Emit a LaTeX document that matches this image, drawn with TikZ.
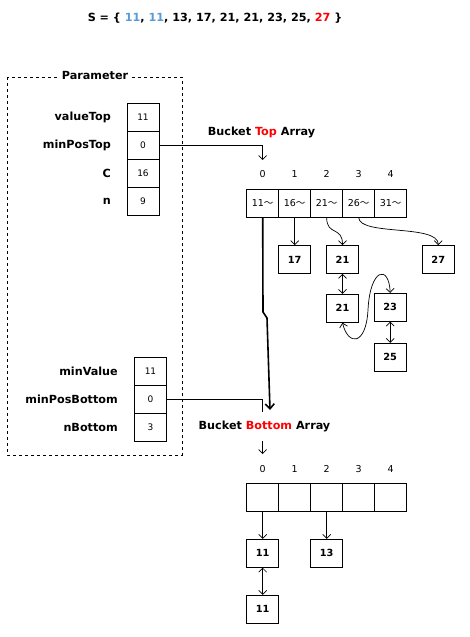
\documentclass[tikz,border=0pt]{standalone}
\usepackage{fontspec}
\setmainfont{DejaVu Sans}
\newfontfamily\cjk{Noto Sans CJK JP}
\usetikzlibrary{arrows.meta}
\definecolor{lblue}{RGB}{91,155,213}
\definecolor{hred}{RGB}{255,0,0}
\begin{document}
\begin{tikzpicture}[x=1pt,y=-1pt,
  bigbold/.style={font=\fontsize{11.2}{13}\selectfont\bfseries, inner sep=0pt},
  lbl/.style={bigbold, anchor=east},
  valbox/.style={draw, line width=0.8pt, minimum width=32pt, minimum height=28pt, inner sep=0pt, font=\fontsize{9}{11}\selectfont},
  cellbox/.style={draw, line width=0.8pt, minimum width=32pt, minimum height=28pt, inner sep=0pt, font=\fontsize{9.5}{11}\selectfont},
  elem/.style={draw, line width=0.8pt, minimum width=32pt, minimum height=28pt, inner sep=0pt, font=\fontsize{9.8}{11}\selectfont\bfseries},
  idx/.style={font=\fontsize{9.5}{11}\selectfont, inner sep=0pt},
  arr/.style={line width=0.7pt, -{Straight Barb[length=4pt,width=8pt]}},
  darr/.style={line width=0.7pt, {Straight Barb[length=4pt,width=8pt]}-{Straight Barb[length=4pt,width=8pt]}},
  conn/.style={line width=0.7pt}
]
\useasboundingbox (0,0) rectangle (469,637);

% title
\node[bigbold] (title) at (215,18) {S = \{ \textcolor{lblue}{11}, \textcolor{lblue}{11}, 13, 17, 21, 21, 23, 25, \textcolor{hred}{27} \}};

% parameter frame
\draw[dashed, line width=0.7pt] (7,77) rectangle (182,455);
\node[bigbold, fill=white, inner xsep=4pt, inner ysep=1pt] (paramlbl) at (95,75) {Parameter};

% top parameters
\node[valbox] (vt1) at (143,117) {11};
\node[valbox] (vt2) at (143,145) {0};
\node[valbox] (vt3) at (143,173) {16};
\node[valbox] (vt4) at (143,201) {9};
\node[lbl] (lt1) at (111,117) {valueTop};
\node[lbl] (lt2) at (111,145) {minPosTop};
\node[lbl] (lt3) at (111,173) {C};
\node[lbl] (lt4) at (111,201) {n};

% bottom parameters
\node[valbox] (vb1) at (150.5,371) {11};
\node[valbox] (vb2) at (150.5,399) {0};
\node[valbox] (vb3) at (150.5,427) {3};
\node[lbl] (lb1) at (118,371) {minValue};
\node[lbl] (lb2) at (118,399) {minPosBottom};
\node[lbl] (lb3) at (118,427) {nBottom};

% bucket top array
\node[bigbold] (toplbl) at (261.5,132) {Bucket \textcolor{hred}{Top} Array};
\foreach \i/\t in {0/11,1/16,2/21,3/26,4/31} {
  \node[cellbox] (cT\i) at ({262.7+32*\i},203.3) {\t{\cjk ～}};
  \node[idx] (iT\i) at ({262.7+32*\i},174) {\i};
}
\node[elem] (e17) at (294.7,259.5) {17};
\node[elem] (e21a) at (342.5,259.5) {21};
\node[elem] (e27) at (438.3,259.5) {27};
\node[elem] (e21b) at (342.5,308.3) {21};
\node[elem] (e23) at (390.2,307.3) {23};
\node[elem] (e25) at (390.2,357.3) {25};

% bucket bottom array
\node[bigbold] (botlbl) at (264.5,426) {Bucket \textcolor{hred}{Bottom} Array};
\foreach \i in {0,...,4} {
  \node[cellbox] (cB\i) at ({262.7+32*\i},497.3) {};
  \node[idx] (iB\i) at ({262.7+32*\i},469) {\i};
}
\node[elem] (e11a) at (262.7,553.3) {11};
\node[elem] (e13) at (326.7,553.3) {13};
\node[elem] (e11b) at (262.7,609.3) {11};

% connector coordinates
\coordinate (topin) at (262.7,160);
\coordinate (botend) at (262.7,412);
\coordinate (bstart) at (262.7,441);
\coordinate (bend) at (262.7,454);
\coordinate (thickend) at (270,410);

% connectors
\draw[arr] (vt2.east) -| (topin);
\draw[conn] (vb2.east) -| (botend);
\draw[arr] (bstart) -- (bend);

\draw[line width=1.6pt, -{Straight Barb[length=5pt,width=9pt]}] (cT0.south) -- (263,312) -- (267,318) -- (thickend);

\draw[arr] (cT1.south) -- (e17.north);
\draw[arr] (cT2.south) .. controls (326.7,236) and (342.5,226) .. (e21a.north);
\draw[arr] (cT3.south) .. controls (360,236) and (438,224) .. (e27.north);
\draw[darr] (e21a.south) -- (e21b.north);
\draw[darr] (e21b.south) .. controls (348,346) and (366,346) .. (368,310) .. controls (370,268) and (389,264) .. (e23.north);
\draw[darr] (e23.south) -- (e25.north);

\draw[arr] (cB0.south) -- (e11a.north);
\draw[arr] (cB2.south) -- (e13.north);
\draw[darr] (e11a.south) -- (e11b.north);
\end{tikzpicture}
\end{document}
